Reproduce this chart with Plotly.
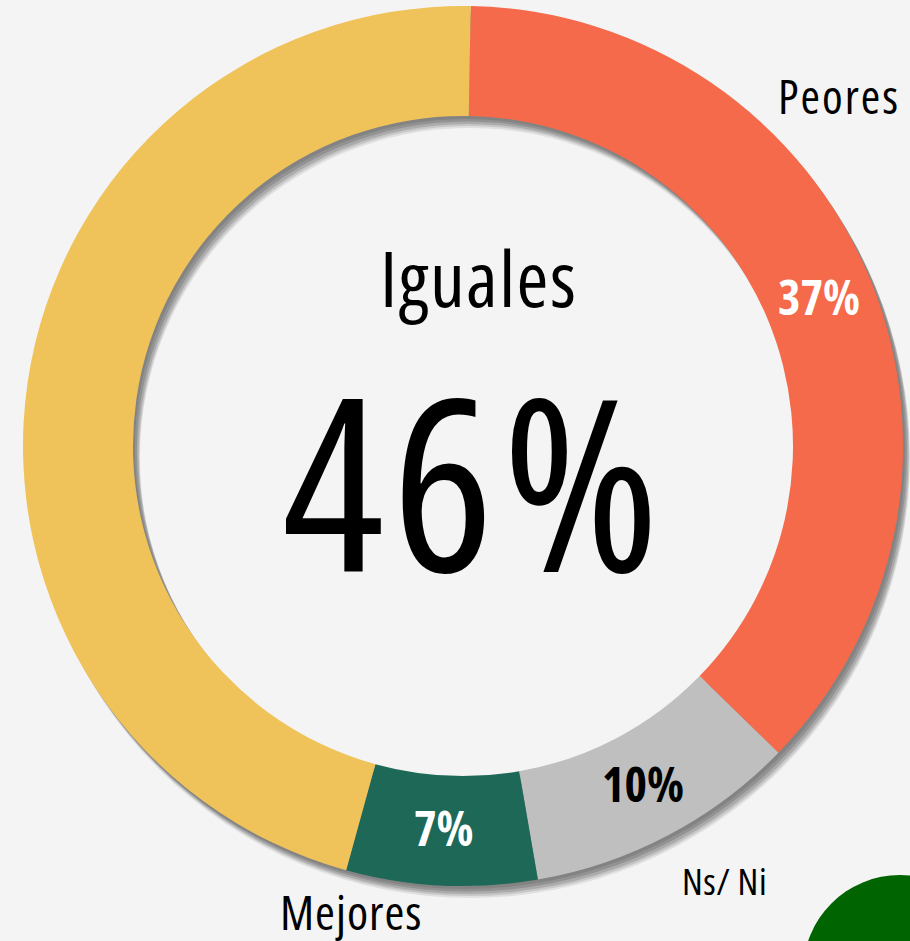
import math
import plotly.graph_objects as go

labels = ["Peores", "Ns/ Ni", "Mejores", "Iguales"]
values = [37, 10, 7, 46]
colors = ["#F56A4A", "#BFBFBF", "#1E6858", "#EFC35A"]
text_colors = ["white", "black", "white", "black"]

W, H = 910, 941
cx, cy, R = 463, 446, 440
HOLE = 0.75
ROT = 1
FONT = "Open Sans, Liberation Sans, Arial"
BG = "#F4F4F4"


def dom(dx=0, dy=0):
    x0 = max(0, (cx - R + dx) / W)
    x1 = min(1, (cx + R + dx) / W)
    y0 = max(0, (H - cy - R - dy) / H)
    y1 = min(1, (H - cy + R - dy) / H)
    return dict(x=[x0, x1], y=[y0, y1])


fig = go.Figure()

for (dx, dy, a) in [(7, 12, 0.08), (6.5, 10, 0.11), (5.5, 8, 0.14), (4, 5.5, 0.14), (2, 3, 0.10)]:
    fig.add_trace(go.Pie(values=[1], labels=["s"], hole=HOLE, sort=False,
                         domain=dom(dx, dy), textinfo="none", hoverinfo="skip",
                         marker=dict(colors=[f"rgba(0,0,0,{a})"], line=dict(width=0)),
                         showlegend=False))

fig.add_trace(go.Pie(values=values, labels=labels, hole=HOLE, sort=False,
                     direction="clockwise", rotation=ROT, domain=dom(),
                     textinfo="none",
                     marker=dict(colors=colors, line=dict(width=0)),
                     showlegend=False))


def ann(txt, x, y, size, color="black", weight="normal", ls=0):
    t = f'<span style="font-stretch:condensed;letter-spacing:{ls}px">{txt}</span>'
    fig.add_annotation(text=t, x=(x + ls / 2) / W, y=1 - y / H, xref="paper", yref="paper",
                       showarrow=False, xanchor="center", yanchor="middle",
                       font=dict(family=FONT, size=size, color=color, weight=weight))


total = sum(values)
cum = 0
rmid = R * (1 + HOLE) / 2
for l, v, c in zip(labels, values, text_colors):
    mid = (cum + v / 2) / total * 360 + ROT
    cum += v
    if l == "Iguales":
        continue
    x = cx + rmid * math.sin(math.radians(mid))
    y = cy - rmid * math.cos(math.radians(mid)) - 3
    ann(f"{v}%", x, y, 48, color=c, weight="bold")

ann(labels[3], 478, 277, 77, ls=1.5)
ann(f"{values[3]}%", 470, 478, 240, ls=8)
ann(labels[0], 838, 96, 47, ls=2)
ann(labels[1], 724, 880, 37, ls=0.5)
ann(labels[2], 350, 911, 48, ls=1)

fig.add_shape(type="circle", xref="paper", yref="paper",
              x0=(900 - 97) / W, x1=(900 + 97) / W,
              y0=1 - (972 + 97) / H, y1=1 - (972 - 97) / H,
              fillcolor="#006400", line=dict(width=0), layer="above")

fig.update_layout(width=W, height=H, margin=dict(l=0, r=0, t=0, b=0),
                  paper_bgcolor=BG, plot_bgcolor=BG)
fig.write_html("out.html", config={"displayModeBar": False},
               post_script="document.body.style.margin='0';document.body.style.background='#F4F4F4';")
